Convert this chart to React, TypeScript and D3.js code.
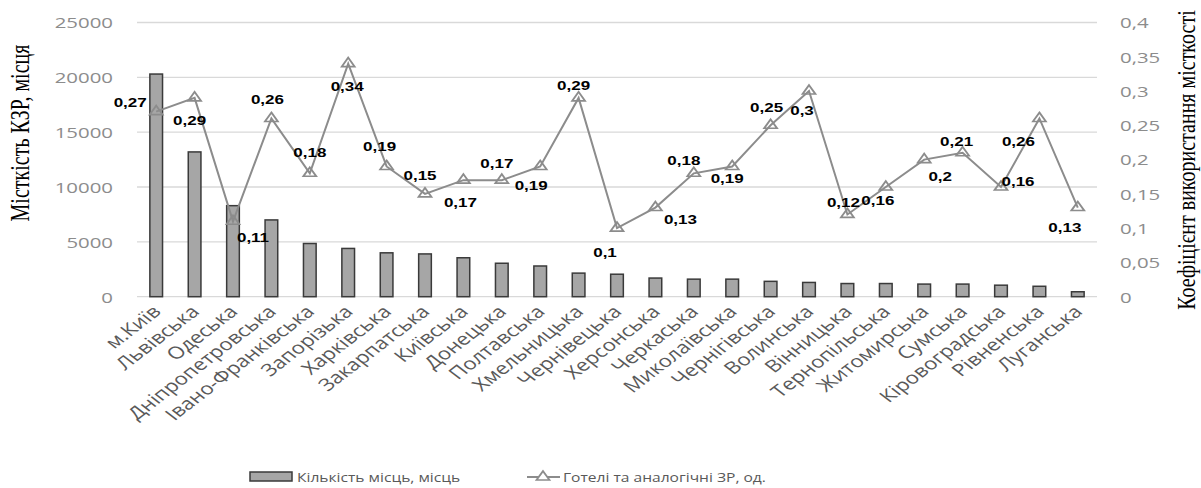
import React from "react";
import * as d3 from "d3";

const categories = [
  "м.Київ", "Львівська", "Одеська", "Дніпропетровська", "Івано-Франківська",
  "Запорізька", "Харківська", "Закарпатська", "Київська", "Донецька",
  "Полтавська", "Хмельницька", "Чернівецька", "Херсонська", "Черкаська",
  "Миколаївська", "Чернігівська", "Волинська", "Вінницька", "Тернопільська",
  "Житомирська", "Сумська", "Кіровоградська", "Рівненська", "Луганська",
];

const places = [
  20300, 13200, 8300, 7000, 4850, 4400, 4000, 3900, 3550, 3050, 2800, 2150,
  2050, 1700, 1600, 1600, 1400, 1300, 1200, 1200, 1150, 1150, 1050, 950, 450,
];

const coefficient = [
  0.27, 0.29, 0.11, 0.26, 0.18, 0.34, 0.19, 0.15, 0.17, 0.17, 0.19, 0.29, 0.1,
  0.13, 0.18, 0.19, 0.25, 0.3, 0.12, 0.16, 0.2, 0.21, 0.16, 0.26, 0.13,
];

const leftTicks = [0, 5000, 10000, 15000, 20000, 25000];
const rightTicks = [0, 0.05, 0.1, 0.15, 0.2, 0.25, 0.3, 0.35, 0.4];

// label placement offsets (px) relative to each point
const labelOffsets: [number, number][] = [
  [-26, -9], [-5, 22], [20, 16], [-4, -19], [0, -21], [-1, 23], [-7, -20],
  [-5, -18], [-3, 22], [-5, -17], [-9, 19], [-5, -13], [-12, 24], [25, 12],
  [-10, -13], [-5, 12], [-4, -18], [-7, 19], [-4, -12], [-8, 13], [16, 17],
  [-6, -11], [17, -6], [-21, 23], [-13, 20],
];

const W = 1201;
const H = 488;
const S = 1.36; // horizontal stretch of the original picture
const SX = 1.3; // stretch used for the rotated category labels
const plot = { left: 137, right: 1097, top: 22.5, bottom: 296.7 };

const fmt = (v: number) => String(v).replace(".", ",");

export default function App() {
  const x = d3
    .scaleBand<string>()
    .domain(categories)
    .range([plot.left, plot.right])
    .padding(0);
  const yL = d3.scaleLinear().domain([0, 25000]).range([plot.bottom, plot.top]);
  const yR = d3.scaleLinear().domain([0, 0.4]).range([plot.bottom, plot.top]);
  const bw = x.bandwidth() * 0.33;
  const cx = (c: string) => (x(c) as number) + x.bandwidth() / 2;

  const line = d3
    .line<number>()
    .x((_, i) => cx(categories[i]))
    .y((d) => yR(d));
  const tri = d3.symbol().type(d3.symbolTriangle).size(46)() as string;

  const tickFont = { fontFamily: "'Open Sans', sans-serif", fontSize: 15, fill: "#8c8c8c" };

  return (
    <svg
      width={W}
      height={H}
      style={{ position: "absolute", left: 0, top: 0, background: "#fff" }}
    >
      {leftTicks.map((t) => (
        <line
          key={"g" + t}
          x1={plot.left}
          x2={plot.right}
          y1={yL(t)}
          y2={yL(t)}
          stroke="#d9d9d9"
          strokeWidth={1.3}
        />
      ))}
      {leftTicks.map((t) => (
        <text
          key={"l" + t}
          transform={`translate(113,${yL(t)}) scale(${S},1)`}
          textAnchor="end"
          dominantBaseline="central"
          {...tickFont}
        >
          {t}
        </text>
      ))}
      {rightTicks.map((t) => (
        <text
          key={"r" + t}
          transform={`translate(1120,${yR(t)}) scale(${S},1)`}
          textAnchor="start"
          dominantBaseline="central"
          {...tickFont}
        >
          {fmt(t)}
        </text>
      ))}
      {categories.map((c, i) => (
        <rect
          key={"b" + c}
          x={cx(c) - bw / 2}
          y={yL(places[i])}
          width={bw}
          height={yL(0) - yL(places[i])}
          fill="#a6a6a6"
          stroke="#3a3a3a"
          strokeWidth={1.5}
        />
      ))}
      <path d={line(coefficient) as string} fill="none" stroke="#8c8c8c" strokeWidth={2} />
      {coefficient.map((v, i) => (
        <path
          key={"m" + i}
          d={tri}
          transform={`translate(${cx(categories[i])},${yR(v)}) scale(1.25,1)`}
          fill="none"
          stroke="#8c8c8c"
          strokeWidth={1.6}
        />
      ))}
      {coefficient.map((v, i) => (
        <text
          key={"d" + i}
          transform={`translate(${cx(categories[i]) + labelOffsets[i][0]},${
            yR(v) + labelOffsets[i][1]
          }) scale(${S},1)`}
          textAnchor="middle"
          dominantBaseline="central"
          fontFamily="'Liberation Sans', Arial, sans-serif"
          fontWeight="bold"
          fontSize={12.5}
          fill="#000"
        >
          {fmt(v)}
        </text>
      ))}
      {categories.map((c) => (
        <text
          key={"x" + c}
          transform={`translate(${cx(c) + 6},${plot.bottom + 16}) scale(${SX},1) rotate(-45)`}
          textAnchor="end"
          fontFamily="'Open Sans', sans-serif"
          fontSize={17}
          fill="#595959"
        >
          {c}
        </text>
      ))}
      <text
        transform={`translate(29,133) scale(${S},1) rotate(-90)`}
        textAnchor="middle"
        fontFamily="'Liberation Serif', 'Times New Roman', serif"
        fontSize={20}
        fill="#000"
      >
        Місткість КЗР, місця
      </text>
      <text
        transform={`translate(1195,160) scale(1.25,1) rotate(-90)`}
        textAnchor="middle"
        fontFamily="'Liberation Serif', 'Times New Roman', serif"
        fontSize={20}
        fill="#000"
      >
        Коефіцієнт використання місткості
      </text>
      <rect x={250} y={472} width={42} height={9} fill="#a6a6a6" stroke="#3a3a3a" strokeWidth={1.5} />
      <text
        transform={`translate(297,477) scale(1.2,1)`}
        dominantBaseline="central"
        fontFamily="'Open Sans', sans-serif"
        fontSize={13}
        fill="#595959"
      >
        Кількість місць, місць
      </text>
      <line x1={527} x2={560} y1={477} y2={477} stroke="#8c8c8c" strokeWidth={2} />
      <path d={tri} transform={`translate(543,477) scale(1.25,1)`} fill="#fff" stroke="#8c8c8c" strokeWidth={1.6} />
      <text
        transform={`translate(563,477) scale(1.2,1)`}
        dominantBaseline="central"
        fontFamily="'Open Sans', sans-serif"
        fontSize={13}
        fill="#595959"
      >
        Готелі та аналогічні ЗР, од.
      </text>
    </svg>
  );
}
